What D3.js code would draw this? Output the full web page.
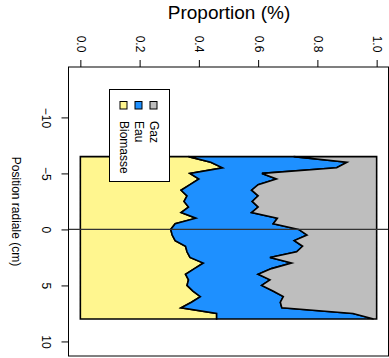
<!DOCTYPE html>
<html>
<head>
<meta charset="utf-8">
<script src="https://cdnjs.cloudflare.com/ajax/libs/d3/7.8.5/d3.min.js"></script>
<style>
  html, body { margin: 0; padding: 0; background: #fff; }
  svg { display: block; font-family: "Liberation Sans", Arial, sans-serif; }
</style>
</head>
<body>
<svg id="chart" width="389" height="358"></svg>
<script>
// Radial positions (cm)
const positions = [-6.5, -6, -5.5, -5, -4.5, -4, -3.5, -3, -2.5, -2, -1.5, -1, -0.5, 0,
  0.5, 1, 1.5, 2, 2.5, 3, 3.5, 4, 4.5, 5, 5.5, 6, 6.5, 7, 7.5, 8];
// Proportions for each phase
const biomasse = [0.365, 0.44, 0.48, 0.37, 0.40, 0.37, 0.34, 0.36, 0.35, 0.365, 0.34, 0.39, 0.32, 0.305,
  0.31, 0.32, 0.355, 0.36, 0.37, 0.415, 0.385, 0.355, 0.365, 0.36, 0.38, 0.405, 0.375, 0.34, 0.46, 0.46];
const eau = [0.355, 0.46, 0.385, 0.243, 0.262, 0.23, 0.238, 0.24, 0.23, 0.235, 0.238, 0.275, 0.331, 0.432,
  0.455, 0.402, 0.395, 0.37, 0.27, 0.298, 0.26, 0.245, 0.275, 0.252, 0.27, 0.28, 0.30, 0.34, 0.46, 0.53];
const gaz = [0.28, 0.10, 0.135, 0.387, 0.338, 0.40, 0.422, 0.40, 0.42, 0.40, 0.422, 0.335, 0.349, 0.263,
  0.235, 0.278, 0.25, 0.27, 0.36, 0.287, 0.355, 0.40, 0.36, 0.388, 0.35, 0.315, 0.325, 0.32, 0.08, 0.01];
const seriesNames = ["Biomasse", "Eau", "Gaz"];
const seriesColors = ["#FFF68F", "#1E90FF", "#BEBEBE"];
const propTicks = [0, 0.2, 0.4, 0.6, 0.8, 1.0];
const posTicks = [-10, -5, 0, 5, 10];
const xTitle = "Proportion (%)";
const yTitle = "Position radiale (cm)";

const table = positions.map((p, i) => ({ pos: p, Biomasse: biomasse[i], Eau: eau[i], Gaz: gaz[i] }));

const svg = d3.select("#chart");
const box = { left: 68.5, right: 388.5, top: 67, bottom: 356 };

const x = d3.scaleLinear().domain([-0.04, 1.04]).range([box.left, box.right]);
const y = d3.scaleLinear().domain([-14.5, 11.3]).range([box.top, box.bottom]);

const stacked = d3.stack().keys(seriesNames)(table);

const area = d3.area()
  .y(d => y(d.data.pos))
  .x0(d => x(d[0]))
  .x1(d => x(d[1]));

svg.append("g").selectAll("path")
  .data(stacked)
  .join("path")
  .attr("d", d => area(d) + "Z")
  .attr("fill", (d, i) => seriesColors[i])
  .attr("stroke", "#000")
  .attr("stroke-width", 1.6)
  .attr("stroke-linejoin", "miter");

// horizontal reference line at position 0
svg.append("line")
  .attr("x1", box.left).attr("x2", box.right)
  .attr("y1", y(0)).attr("y2", y(0))
  .attr("stroke", "#333").attr("stroke-width", 1.3);

// frame
svg.append("rect")
  .attr("x", box.left).attr("y", box.top)
  .attr("width", box.right - box.left).attr("height", box.bottom - box.top)
  .attr("fill", "none").attr("stroke", "#000").attr("stroke-width", 1);

// top axis
const axTop = svg.append("g")
  .attr("transform", `translate(0,${box.top})`)
  .call(d3.axisTop(x).tickValues(propTicks).tickSize(7).tickFormat(d3.format(".1f")));
axTop.select(".domain").remove();
axTop.selectAll("line").attr("stroke", "#000");
axTop.selectAll("text")
  .attr("font-size", 12).attr("fill", "#000")
  .attr("text-anchor", "middle").attr("dominant-baseline", "central")
  .attr("x", 0).attr("y", 0).attr("dy", null)
  .attr("transform", `translate(0,${44 - box.top}) rotate(90)`);

// left axis
const axLeft = svg.append("g")
  .attr("transform", `translate(${box.left},0)`)
  .call(d3.axisLeft(y).tickValues(posTicks).tickSize(7));
axLeft.select(".domain").remove();
axLeft.selectAll("line").attr("stroke", "#000");
axLeft.selectAll("text")
  .attr("font-size", 12).attr("fill", "#000")
  .attr("text-anchor", "middle").attr("dominant-baseline", "central")
  .attr("x", 0).attr("y", 0).attr("dy", null)
  .attr("transform", `translate(${46 - box.left},0) rotate(90)`);

// titles
svg.append("text")
  .attr("x", 229).attr("y", 19)
  .attr("text-anchor", "middle")
  .attr("font-size", 19)
  .text(xTitle);

svg.append("text")
  .attr("transform", `translate(16,${(box.top + box.bottom) / 2}) rotate(90)`)
  .attr("text-anchor", "middle").attr("dominant-baseline", "central")
  .attr("font-size", 12)
  .text(yTitle);

// legend
const lg = svg.append("g");
lg.append("rect")
  .attr("x", 109.5).attr("y", 89.5).attr("width", 60).attr("height", 92)
  .attr("fill", "#fff").attr("stroke", "#000").attr("stroke-width", 1);
const legendX = [123.5, 138.5, 153.5];
seriesNames.forEach((name, i) => {
  lg.append("rect")
    .attr("x", legendX[i] - 3.5).attr("y", 101.5).attr("width", 7).attr("height", 7.5)
    .attr("fill", seriesColors[i]).attr("stroke", "#000").attr("stroke-width", 1);
  lg.append("text")
    .attr("transform", `translate(${legendX[i]},121) rotate(90)`)
    .attr("text-anchor", "start").attr("dominant-baseline", "central")
    .attr("font-size", 12)
    .text(name);
});
</script>
</body>
</html>
